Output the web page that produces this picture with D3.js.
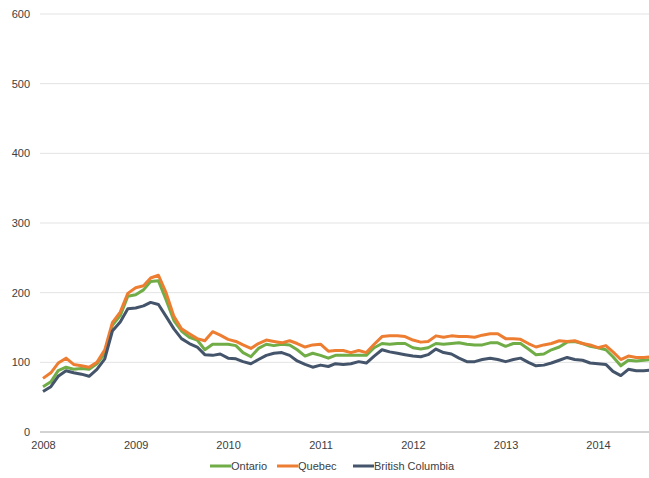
<!DOCTYPE html>
<html>
<head>
<meta charset="utf-8">
<script src="https://cdn.jsdelivr.net/npm/d3@7"></script>
<style>
  body { margin: 0; background: #fff; }
  text { font-family: "Liberation Sans", Arial, sans-serif; }
</style>
</head>
<body>
<svg id="chart"></svg>
<script>
// monthly values, Jan 2008 .. Aug 2014
let startMonth = new Date(2008, 0, 1);
let ontario = [
  65, 72, 88, 93, 90, 91, 90, 98, 113, 153, 167, 195,
  197, 204, 216, 217, 190, 160, 145, 136, 132, 118, 126, 126,
  126, 124, 114, 108, 120, 126, 124, 126, 125, 118, 109, 113,
  110, 106, 110, 110, 110, 110, 110, 121, 127, 126, 127, 127,
  121, 119, 121, 127, 126, 127, 128, 126, 125, 125, 128, 128,
  123, 127, 127, 119, 111, 112, 118, 122, 129, 130, 127, 123,
  121, 118, 108, 95, 103, 102, 103, 104
];
let quebec = [
  77, 85, 99, 106, 97, 95, 93, 100, 118, 157, 172, 199,
  207, 210, 221, 225, 200, 166, 148, 141, 134, 131, 144, 139,
  133, 130, 125, 120, 127, 132, 130, 128, 131, 127, 122, 125,
  126, 116, 117, 117, 114, 117, 114, 126, 137, 138, 138, 137,
  132, 129, 130, 138, 136, 138, 137, 137, 136, 139, 141, 141,
  134, 134, 133, 127, 122, 125, 127, 131, 130, 131, 127, 125,
  121, 124, 115, 104, 109, 107, 107, 108
];
let britishColumbia = [
  58, 65, 80, 88, 85, 83, 80, 90, 105, 145, 158, 177,
  178, 181, 186, 183, 166, 148, 134, 127, 122, 111, 110, 112,
  106, 105, 101, 98, 104, 110, 113, 114, 110, 102, 97, 93,
  96, 94, 98, 97, 98, 101, 99, 109, 118, 115, 113, 111,
  109, 108, 111, 119, 114, 112, 106, 101, 101, 104, 106, 104,
  101, 104, 106, 100, 95, 96, 99, 103, 107, 104, 103, 99,
  98, 97, 87, 81, 90, 88, 88, 89
];
let seriesNames = ["Ontario", "Quebec", "British Columbia"];
let seriesColors = ["#70ad47", "#ed7d31", "#44546a"];
let yTicks = [0, 100, 200, 300, 400, 500, 600];

let width = 649, height = 478;
let svg = d3.select("#chart")
    .attr("width", width)
    .attr("height", height);

let months = ontario.map((d, i) => d3.timeMonth.offset(startMonth, i));

let x = d3.scaleTime()
    .domain([new Date(2008, 0, 1), new Date(2014, 0, 1)])
    .range([43, 598]);
let y = d3.scaleLinear()
    .domain([0, 600])
    .range([432, 14]);

// gridlines
svg.append("g")
    .selectAll("line")
    .data(yTicks.filter(d => d > 0))
    .join("line")
    .attr("x1", 40).attr("x2", width)
    .attr("y1", d => y(d)).attr("y2", d => y(d))
    .attr("stroke", "#e3e3e3")
    .attr("stroke-width", 1);

// y labels
let yAxis = svg.append("g")
    .attr("transform", "translate(30,0)")
    .call(d3.axisLeft(y).tickValues(yTicks).tickSize(0).tickPadding(0));
yAxis.select(".domain").remove();
yAxis.selectAll("text")
    .attr("fill", "#404040")
    .style("font-size", "11px");

// x axis
let xAxis = svg.append("g")
    .attr("transform", "translate(0,432)")
    .call(d3.axisBottom(x).ticks(d3.timeYear.every(1)).tickFormat(d3.timeFormat("%Y")).tickSize(0).tickPadding(9));
xAxis.select(".domain").remove();
xAxis.selectAll("text")
    .attr("fill", "#404040")
    .style("font-size", "11px");
svg.append("line")
    .attr("x1", 40).attr("x2", width)
    .attr("y1", y(0)).attr("y2", y(0))
    .attr("stroke", "#a6a6a6")
    .attr("stroke-width", 1);

// lines
let allSeries = [ontario, quebec, britishColumbia];
let line = d3.line()
    .x((d, i) => x(months[i]))
    .y(d => y(d));

svg.append("g")
    .selectAll("path")
    .data(allSeries)
    .join("path")
    .attr("d", d => line(d))
    .attr("fill", "none")
    .attr("stroke", (d, i) => seriesColors[i])
    .attr("stroke-width", 3)
    .attr("stroke-linejoin", "round");

// legend
let legendX = [210, 277, 353];
let legend = svg.append("g")
    .selectAll("g")
    .data(seriesNames)
    .join("g")
    .attr("transform", (d, i) => `translate(${legendX[i]},466)`);
legend.append("line")
    .attr("x1", 0).attr("x2", 21)
    .attr("stroke", (d, i) => seriesColors[i])
    .attr("stroke-width", 3);
legend.append("text")
    .attr("x", 21)
    .attr("dy", "0.35em")
    .attr("fill", "#404040")
    .style("font-size", "11px")
    .text(d => d);
</script>
</body>
</html>
